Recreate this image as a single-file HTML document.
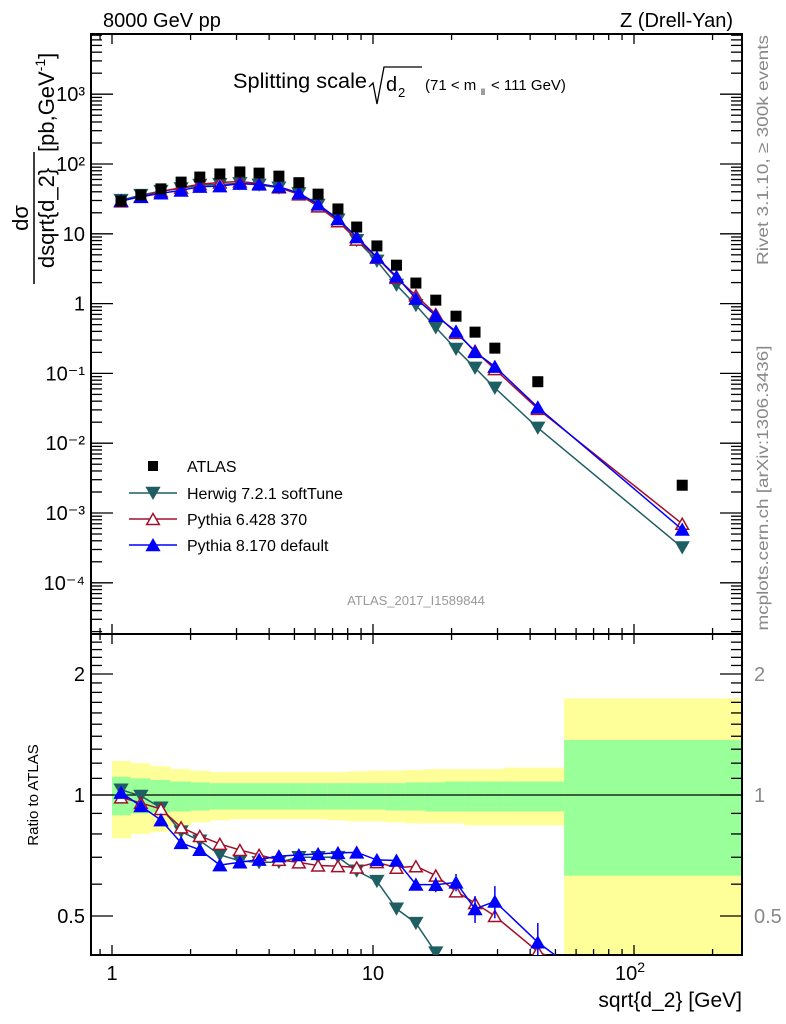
<!DOCTYPE html>
<html><head><meta charset="utf-8"><style>
html,body{margin:0;background:#fff;overflow:hidden;width:786px;height:1024px}
svg{display:block;font-family:"Liberation Sans",sans-serif}
</style></head><body>
<svg id="c" width="786" height="1024" viewBox="0 0 786 1024"></svg>
<script>
const xVals=[1.083,1.29,1.54,1.84,2.17,2.59,3.09,3.66,4.36,5.2,6.16,7.34,8.66,10.35,12.3,14.6,17.4,20.8,24.6,29.3,42.8,153];
const binEdges=[1.0,1.18,1.4,1.67,2.0,2.37,2.82,3.35,3.98,4.73,5.62,6.68,7.94,9.44,11.2,13.3,15.8,18.8,22.4,26.6,31.6,54,257];
const atlas=[29.5,36,44,55,65,72,77,74,67,54,37,22.7,12.5,6.7,3.55,1.97,1.12,0.66,0.39,0.23,0.076,0.0025];
const herwig=[30.4,35.8,40.9,44.6,50,51.1,52.8,50.3,45.6,37.8,25.9,15.9,8.1,4.09,1.85,0.946,0.454,0.224,0.12,0.062,0.0166,0.00032];
const pythia6=[29.1,34.4,40.6,45.7,51.4,54.4,56.2,52.5,46.2,36.7,24.7,15.1,8.25,4.56,2.34,1.31,0.706,0.38,0.21,0.115,0.031,0.0007];
const pythia8=[29.9,33.8,38.1,41.8,47.5,48.2,52.4,51.1,47.2,38.3,26.4,16.3,9.0,4.62,2.44,1.18,0.67,0.40,0.203,0.125,0.0327,0.00058];
const p8RatioErr=[0,0,0,0,0,0,0,0,0,0,0,0,0,0.01,0.015,0.02,0.025,0.03,0.04,0.05,0.05,0.05];
const yelUp=[1.215,1.20,1.18,1.16,1.15,1.14,1.14,1.14,1.14,1.14,1.14,1.14,1.145,1.15,1.15,1.155,1.16,1.16,1.16,1.16,1.17,1.74];
const yelDn=[0.78,0.80,0.81,0.84,0.855,0.865,0.87,0.87,0.87,0.87,0.87,0.865,0.86,0.86,0.855,0.85,0.85,0.85,0.84,0.84,0.84,0.3];
const grnUp=[1.11,1.10,1.09,1.08,1.075,1.07,1.07,1.07,1.07,1.07,1.07,1.07,1.07,1.07,1.07,1.075,1.075,1.08,1.08,1.08,1.08,1.37];
const grnDn=[0.89,0.90,0.905,0.91,0.915,0.92,0.92,0.92,0.92,0.92,0.92,0.92,0.92,0.92,0.915,0.915,0.91,0.91,0.91,0.91,0.91,0.63];
const yTickLabels=["10⁻⁴","10⁻³","10⁻²","10⁻¹","1","10","10²","10³"];

const NS="http://www.w3.org/2000/svg";
const svg=document.getElementById('c');
const L=91,R=742,T=34,M=634,B=955;
const X=v=>112+261*Math.log10(v);
const Y=v=>164-69.8*(Math.log10(v)-2);
const RY=v=>795-402*Math.log10(v);
function el(tag,a,parent){const e=document.createElementNS(NS,tag);for(const k in a)e.setAttribute(k,a[k]);(parent||svg).appendChild(e);return e;}
const HC="#1f5f63",P6="#a3102a",P8="#0000ff";

const defs=el('defs',{});
const cp1=el('clipPath',{id:'cm'},defs);el('rect',{x:L,y:T,width:R-L,height:M-T},cp1);
const cp2=el('clipPath',{id:'cr'},defs);el('rect',{x:L,y:M,width:R-L,height:B-M},cp2);

const bands=el('g',{'clip-path':'url(#cr)'});


for(let i=0;i<xVals.length;i++){
 const x0=X(binEdges[i]),x1=X(binEdges[i+1]);
 const y=el('rect',{x:x0,y:RY(yelUp[i]),width:x1-x0+0.5,height:RY(yelDn[i])-RY(yelUp[i]),fill:'#ffff99'},bands);
 
 
 const g=el('rect',{x:x0,y:RY(grnUp[i]),width:x1-x0+0.5,height:RY(grnDn[i])-RY(grnUp[i]),fill:'#99ff99'},bands);
 
 
}
const one=el('line',{x1:L,x2:R,y1:RY(1),y2:RY(1),stroke:'#000','stroke-width':1.3});



for(const [y0,y1,n] of [[T,M,'main-plot-frame'],[M,B,'ratio-plot-frame']]){
 const f=el('rect',{x:L,y:y0,width:R-L,height:y1-y0,fill:'none',stroke:'#000','stroke-width':2});
 
 
}
const tk=el('g',{stroke:'#000','stroke-width':1.3});


for(let d=-1;d<=2;d++)for(let m=1;m<10;m++){
 const v=m*Math.pow(10,d);const x=X(v);if(x<L+1||x>R-1)continue;
 const len=m===1?10:6;
 for(const yy of [T,M,B]){el('line',{x1:x,x2:x,y1:yy,y2:yy+(yy===T||yy===M?len:-len)},tk);if(yy===M)el('line',{x1:x,x2:x,y1:M,y2:M-len},tk);}
}
for(let d=-5;d<=4;d++)for(let m=1;m<10;m++){
 const v=m*Math.pow(10,d);const y=Y(v);if(y<T+1||y>M-1)continue;
 const len=m===1?22:11;
 el('line',{x1:L,x2:L+len,y1:y,y2:y},tk);el('line',{x1:R,x2:R-len,y1:y,y2:y},tk);
}
for(const v of [0.4,0.5,0.6,0.7,0.8,0.9,1,1.1,1.2,1.3,1.4,1.5,1.6,1.7,1.8,1.9,2,2.1,2.2,2.3,2.4]){
 const y=RY(v);if(y<M+2||y>B-2)continue;
 const len=(v===0.5||v===1||v===2)?22:11;
 el('line',{x1:L,x2:L+len,y1:y,y2:y},tk);el('line',{x1:R,x2:R-len,y1:y,y2:y},tk);
}
function txt(s,a,name,parent){const t=el('text',a,parent);t.textContent=s;return t;}
for(let i=0;i<yTickLabels.length;i++){
 const v=Math.pow(10,i-4);
 txt(yTickLabels[i],{x:L-6,y:Y(v)+7,'text-anchor':'end','font-size':20},'y-tick-label');
}
for(const [s,v] of [['2',2],['1',1],['0.5',0.5]]){
 txt(s,{x:L-6,y:RY(v)+7,'text-anchor':'end','font-size':20},'ratio-tick-label');
 txt(s,{x:R+12,y:RY(v)+7,'font-size':20,fill:'#888'},'ratio-tick-label-right');
}
txt('1',{x:X(1),y:980,'text-anchor':'middle','font-size':20},'x-tick-label');
txt('10',{x:X(10),y:980,'text-anchor':'middle','font-size':20},'x-tick-label');
const t100=txt('10',{x:X(100)-4,y:980,'text-anchor':'middle','font-size':20},'x-tick-label');
const s=el('tspan',{dy:-8,'font-size':14},t100);s.textContent='2';
txt('sqrt{d_2} [GeV]',{x:R,y:1007,'text-anchor':'end','font-size':21},'x-axis-title');
txt('8000 GeV pp',{x:103,y:27,'font-size':20},'energy-label');
txt('Z (Drell-Yan)',{x:733,y:27,'text-anchor':'end','font-size':20},'process-label');
txt('Splitting scale',{x:233,y:88,'font-size':21,textLength:134,lengthAdjust:'spacingAndGlyphs'},'plot-title');
el('path',{d:'M369 87 L373 83 L377 104 L384 67 L422 67',fill:'none',stroke:'#000','stroke-width':1.3});
txt('d',{x:386,y:91,'font-size':20},'plot-title-d');
txt('2',{x:398,y:97,'font-size':13},'plot-title-sub');
txt('(71 < m',{x:425,y:90,'font-size':15},'plot-title-range');
txt('ll',{x:481,y:95,'font-size':9},'plot-title-sub');
txt('< 111 GeV)',{x:491,y:90,'font-size':15},'plot-title-range');
txt('ATLAS_2017_I1589844',{x:416,y:605,'text-anchor':'middle','font-size':13,fill:'#999'},'analysis-id');
txt('Rivet 3.1.10, ≥ 300k events',{x:0,y:0,'font-size':16,fill:'#888','text-anchor':'middle',textLength:230,lengthAdjust:'spacingAndGlyphs',transform:'translate(768,150) rotate(-90)'},'rivet-version');
txt('mcplots.cern.ch [arXiv:1306.3436]',{x:0,y:0,'font-size':16,fill:'#888','text-anchor':'middle',textLength:285,lengthAdjust:'spacingAndGlyphs',transform:'translate(768,488) rotate(-90)'},'source-label');
txt('Ratio to ATLAS',{x:0,y:0,'font-size':15,'text-anchor':'middle',transform:'translate(38,795) rotate(-90)'},'ratio-y-axis-title');
const yg=el('g',{transform:'translate(34,218) rotate(-90)'});


txt('dσ',{x:0,y:-6,'text-anchor':'middle','font-size':22},'y-title-numerator',yg);
el('line',{x1:-66,x2:66,y1:0,y2:0,stroke:'#000','stroke-width':1.5},yg);
txt('dsqrt{d_2}',{x:0,y:20,'text-anchor':'middle','font-size':22},'y-title-denominator',yg);
const a3=txt('[pb,GeV',{x:66,y:20,'font-size':22},'y-title-units',yg);
const a4=el('tspan',{dy:-9,'font-size':14},a3);a4.textContent='-1';
const a5=el('tspan',{dy:9,'font-size':22},a3);a5.textContent=']';

function tri(g,x,y,down,fill,stroke,sz){
 const h=sz,w=sz*1.15;const d=down?`M${x-w/2} ${y-h/2}L${x+w/2} ${y-h/2}L${x} ${y+h/2}Z`:`M${x-w/2} ${y+h/2}L${x+w/2} ${y+h/2}L${x} ${y-h/2}Z`;
 return el('path',{d,fill,stroke,'stroke-width':1.5},g);
}
function series(vals,color,name,down,open,yfn,clip,ratio){
 const g=el('g',{'clip-path':clip});
 
 
 const pts=vals.map((v,i)=>[X(xVals[i]),yfn(ratio?v/atlas[i]:v)]);
 const pl=el('polyline',{points:pts.map(p=>p.join(',')).join(' '),fill:'none',stroke:color,'stroke-width':1.5},g);
 
 
 pts.forEach((p,i)=>{
  if(ratio&&name.indexOf('pythia-8')>=0&&p8RatioErr[i]>0){
   const r=vals[i]/atlas[i];
   el('line',{x1:p[0],x2:p[0],y1:RY(r+p8RatioErr[i]),y2:RY(r-p8RatioErr[i]),stroke:color,'stroke-width':1.5},g);
  }
  const m=tri(g,p[0],p[1],down,open?'#fff':color,color,11);
  
  
 });
}
series(herwig,HC,'herwig-series',true,false,Y,'url(#cm)',false);
series(pythia6,P6,'pythia-6-series',false,true,Y,'url(#cm)',false);
series(pythia8,P8,'pythia-8-series',false,false,Y,'url(#cm)',false);
const ag=el('g',{});


atlas.forEach((v,i)=>{const r=el('rect',{x:X(xVals[i])-5.5,y:Y(v)-5.5,width:11,height:11,fill:'#000'},ag);
 
 });
series(herwig,HC,'herwig-ratio',true,false,RY,'url(#cr)',true);
series(pythia6,P6,'pythia-6-ratio',false,true,RY,'url(#cr)',true);
series(pythia8,P8,'pythia-8-ratio',false,false,RY,'url(#cr)',true);

const lg=el('g',{});


el('rect',{x:148,y:461,width:10,height:10,fill:'#000'},lg);
txt('ATLAS',{x:187,y:472,'font-size':16},'legend-entry',lg);
const ent=[[HC,true,false,'Herwig 7.2.1 softTune',493],[P6,false,true,'Pythia 6.428 370',519],[P8,false,false,'Pythia 8.170 default',545]];
for(const [c,dn,op,lab,y] of ent){
 el('line',{x1:129,x2:177,y1:y,y2:y,stroke:c,'stroke-width':1.5},lg);
 tri(lg,153,y,dn,op?'#fff':c,c,11);
 txt(lab,{x:187,y:y+6,'font-size':16},'legend-entry',lg);
}
</script>
</body></html>
